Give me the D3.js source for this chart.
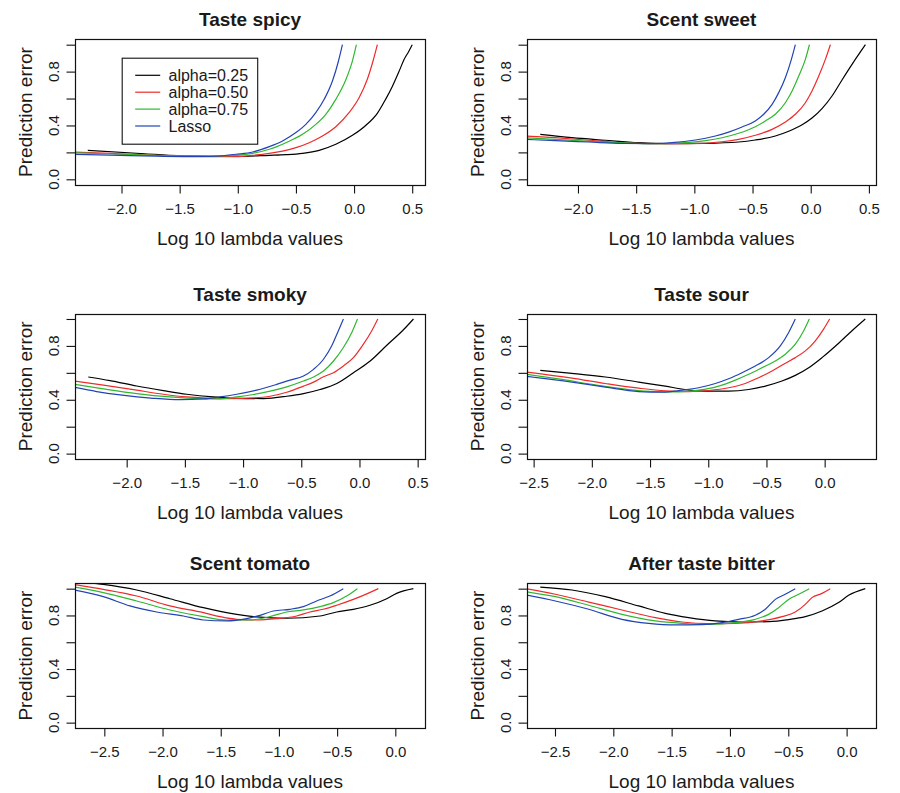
<!DOCTYPE html>
<html>
<head>
<meta charset="utf-8">
<script src="https://cdn.jsdelivr.net/npm/d3@7"></script>
<style>
  body { margin: 0; background: #fff; }
  svg { display: block; font-family: "Liberation Sans", Arial, Helvetica, sans-serif; }
</style>
</head>
<body>
<div id="chart"></div>
<script>
// cross-validated prediction error, [log10 lambda, error] per model
const spicy25 = [[-2.29,0.215],[-1.8,0.19],[-1.4,0.172],[-1.015,0.17],[-0.729,0.178],[-0.586,0.183],[-0.443,0.193],[-0.3,0.215],[-0.157,0.26],[-0.014,0.327],[0.1,0.4],[0.2,0.49],[0.271,0.594],[0.329,0.69],[0.386,0.8],[0.43,0.89],[0.47,0.95],[0.5,1.0]];
const spicy50 = [[-2.5,0.206],[-2.1,0.192],[-1.7,0.178],[-1.3,0.17],[-1.015,0.168],[-0.872,0.178],[-0.729,0.193],[-0.615,0.21],[-0.5,0.235],[-0.386,0.272],[-0.272,0.322],[-0.157,0.391],[-0.043,0.495],[0.043,0.606],[0.114,0.743],[0.163,0.879],[0.2,1.0]];
const spicy75 = [[-2.5,0.198],[-2.1,0.19],[-1.7,0.178],[-1.3,0.172],[-1.015,0.178],[-0.872,0.193],[-0.729,0.223],[-0.586,0.272],[-0.443,0.334],[-0.329,0.408],[-0.243,0.483],[-0.157,0.594],[-0.071,0.74],[-0.014,0.88],[0.02,1.0]];
const spicyLasso = [[-2.5,0.186],[-2.1,0.18],[-1.7,0.172],[-1.3,0.168],[-1.158,0.173],[-1.015,0.186],[-0.872,0.203],[-0.729,0.243],[-0.615,0.285],[-0.5,0.347],[-0.415,0.408],[-0.329,0.495],[-0.257,0.594],[-0.186,0.73],[-0.134,0.879],[-0.1,1.0]];

const sweet25 = [[-2.324,0.334],[-2.052,0.309],[-1.765,0.29],[-1.479,0.272],[-1.192,0.265],[-0.905,0.267],[-0.619,0.277],[-0.476,0.292],[-0.304,0.322],[-0.189,0.357],[-0.074,0.405],[0.011,0.455],[0.097,0.525],[0.183,0.619],[0.269,0.738],[0.355,0.854],[0.47,1.0]];
const sweet50 = [[-2.45,0.322],[-2.195,0.309],[-1.908,0.29],[-1.622,0.272],[-1.335,0.265],[-1.049,0.265],[-0.762,0.279],[-0.619,0.297],[-0.476,0.327],[-0.332,0.371],[-0.218,0.426],[-0.132,0.483],[-0.046,0.569],[0.011,0.656],[0.069,0.767],[0.126,0.891],[0.169,1.0]];
const sweet75 = [[-2.45,0.309],[-2.195,0.297],[-1.908,0.282],[-1.622,0.272],[-1.364,0.265],[-1.192,0.267],[-0.905,0.287],[-0.762,0.309],[-0.619,0.342],[-0.476,0.391],[-0.39,0.433],[-0.304,0.483],[-0.218,0.569],[-0.16,0.656],[-0.103,0.767],[-0.046,0.891],[-0.011,1.0]];
const sweetLasso = [[-2.45,0.297],[-2.195,0.287],[-1.908,0.277],[-1.622,0.267],[-1.364,0.265],[-1.192,0.272],[-0.991,0.292],[-0.819,0.322],[-0.705,0.351],[-0.59,0.389],[-0.476,0.433],[-0.404,0.483],[-0.332,0.557],[-0.275,0.644],[-0.218,0.755],[-0.166,0.891],[-0.132,1.0]];

const smoky25 = [[-2.33,0.569],[-2.143,0.542],[-1.914,0.502],[-1.685,0.468],[-1.484,0.441],[-1.255,0.421],[-1.054,0.411],[-0.825,0.409],[-0.625,0.426],[-0.481,0.446],[-0.338,0.476],[-0.195,0.521],[-0.052,0.601],[0.092,0.688],[0.235,0.805],[0.378,0.92],[0.464,1.0]];
const smoky50 = [[-2.46,0.541],[-2.2,0.509],[-1.914,0.471],[-1.685,0.441],[-1.484,0.421],[-1.284,0.411],[-1.112,0.409],[-0.911,0.414],[-0.768,0.426],[-0.625,0.456],[-0.481,0.501],[-0.395,0.531],[-0.309,0.571],[-0.223,0.601],[-0.138,0.651],[-0.052,0.713],[0.034,0.813],[0.106,0.913],[0.158,1.0]];
const smoky75 = [[-2.46,0.516],[-2.2,0.481],[-1.914,0.446],[-1.628,0.421],[-1.398,0.409],[-1.226,0.406],[-1.054,0.421],[-0.911,0.439],[-0.768,0.464],[-0.625,0.496],[-0.481,0.539],[-0.395,0.569],[-0.309,0.613],[-0.223,0.688],[-0.138,0.788],[-0.066,0.9],[-0.017,1.0]];
const smokyLasso = [[-2.46,0.494],[-2.258,0.461],[-2.057,0.436],[-1.771,0.411],[-1.542,0.401],[-1.341,0.406],[-1.198,0.421],[-1.054,0.441],[-0.883,0.471],[-0.711,0.514],[-0.596,0.546],[-0.481,0.576],[-0.395,0.626],[-0.309,0.701],[-0.238,0.801],[-0.181,0.913],[-0.138,1.0]];

const sour25 = [[-2.443,0.618],[-2.171,0.596],[-1.884,0.569],[-1.598,0.531],[-1.369,0.501],[-1.197,0.476],[-0.997,0.464],[-0.825,0.464],[-0.653,0.476],[-0.51,0.501],[-0.367,0.539],[-0.252,0.581],[-0.137,0.638],[-0.023,0.713],[0.12,0.82],[0.235,0.913],[0.349,1.0]];
const sour50 = [[-2.56,0.606],[-2.171,0.561],[-1.884,0.521],[-1.598,0.486],[-1.369,0.466],[-1.168,0.461],[-0.997,0.469],[-0.825,0.489],[-0.682,0.521],[-0.567,0.564],[-0.452,0.614],[-0.338,0.671],[-0.252,0.713],[-0.166,0.763],[-0.08,0.838],[-0.009,0.925],[0.043,1.0]];
const sour75 = [[-2.56,0.589],[-2.257,0.551],[-1.971,0.511],[-1.684,0.476],[-1.455,0.461],[-1.254,0.459],[-1.083,0.471],[-0.911,0.501],[-0.767,0.546],[-0.653,0.589],[-0.538,0.638],[-0.424,0.688],[-0.338,0.738],[-0.252,0.813],[-0.18,0.913],[-0.132,1.0]];
const sourLasso = [[-2.56,0.574],[-2.171,0.531],[-1.884,0.494],[-1.598,0.461],[-1.397,0.456],[-1.226,0.471],[-1.083,0.489],[-0.939,0.521],[-0.825,0.556],[-0.71,0.601],[-0.596,0.651],[-0.481,0.713],[-0.381,0.8],[-0.309,0.9],[-0.252,1.0]];

const tomato25 = [[-2.637,1.045],[-2.509,1.032],[-2.222,0.99],[-1.936,0.925],[-1.649,0.858],[-1.363,0.808],[-1.191,0.789],[-0.934,0.779],[-0.647,0.796],[-0.504,0.826],[-0.361,0.846],[-0.218,0.876],[-0.074,0.925],[0.011,0.965],[0.155,1.0]];
const tomato50 = [[-2.76,1.032],[-2.509,0.995],[-2.222,0.945],[-1.936,0.871],[-1.649,0.821],[-1.506,0.791],[-1.363,0.771],[-1.191,0.766],[-1.019,0.776],[-0.848,0.796],[-0.733,0.826],[-0.619,0.846],[-0.504,0.876],[-0.361,0.92],[-0.275,0.95],[-0.146,1.0]];
const tomato75 = [[-2.76,1.012],[-2.509,0.97],[-2.222,0.908],[-1.936,0.841],[-1.649,0.791],[-1.449,0.766],[-1.249,0.766],[-1.077,0.791],[-0.934,0.826],[-0.79,0.841],[-0.647,0.866],[-0.533,0.896],[-0.418,0.945],[-0.326,1.0]];
const tomatoLasso = [[-2.76,0.99],[-2.509,0.94],[-2.28,0.871],[-2.05,0.826],[-1.821,0.796],[-1.649,0.766],[-1.449,0.759],[-1.277,0.776],[-1.162,0.801],[-1.048,0.833],[-0.905,0.846],[-0.79,0.866],[-0.676,0.908],[-0.562,0.945],[-0.447,1.0]];

const bitter25 = [[-2.626,1.012],[-2.354,0.99],[-2.069,0.94],[-1.783,0.871],[-1.554,0.816],[-1.354,0.784],[-1.126,0.759],[-0.897,0.751],[-0.669,0.754],[-0.497,0.769],[-0.354,0.791],[-0.211,0.833],[-0.069,0.896],[0.017,0.95],[0.16,1.0]];
const bitter50 = [[-2.75,1.0],[-2.497,0.958],[-2.211,0.9],[-1.926,0.841],[-1.64,0.784],[-1.411,0.751],[-1.183,0.739],[-0.954,0.741],[-0.726,0.759],[-0.554,0.791],[-0.44,0.826],[-0.354,0.883],[-0.297,0.933],[-0.211,0.965],[-0.14,1.0]];
const bitter75 = [[-2.75,0.978],[-2.497,0.94],[-2.211,0.876],[-1.926,0.808],[-1.64,0.759],[-1.411,0.741],[-1.183,0.734],[-0.954,0.746],[-0.783,0.771],[-0.669,0.808],[-0.583,0.858],[-0.497,0.92],[-0.411,0.958],[-0.32,1.0]];
const bitterLasso = [[-2.75,0.953],[-2.497,0.908],[-2.211,0.846],[-1.926,0.771],[-1.697,0.741],[-1.469,0.729],[-1.24,0.731],[-1.069,0.746],[-0.926,0.771],[-0.783,0.801],[-0.697,0.846],[-0.611,0.92],[-0.526,0.958],[-0.44,1.0]];

const panelTitles = ['Taste spicy', 'Scent sweet', 'Taste smoky', 'Taste sour', 'Scent tomato', 'After taste bitter'];
const xDomains = [[-2.40, 0.61], [-2.438, 0.561], [-2.444, 0.563], [-2.557, 0.441], [-2.752, 0.255], [-2.74, 0.252]];
const xTicksShort = [-2.0, -1.5, -1.0, -0.5, 0.0, 0.5];
const xTicksLong = [-2.5, -2.0, -1.5, -1.0, -0.5, 0.0];
const xTickSets = [xTicksShort, xTicksShort, xTicksShort, xTicksLong, xTicksLong, xTicksLong];
const yTicks = [0, 0.2, 0.4, 0.6, 0.8, 1.0];
const yTickLabels = [0, 0.4, 0.8];
const seriesNames = ['alpha=0.25', 'alpha=0.50', 'alpha=0.75', 'Lasso'];
const seriesColours = ['#000000', '#ee2b2b', '#2fb82f', '#2343b5'];

const panelSeries = [
	[spicy25, spicy50, spicy75, spicyLasso],
	[sweet25, sweet50, sweet75, sweetLasso],
	[smoky25, smoky50, smoky75, smokyLasso],
	[sour25, sour50, sour75, sourLasso],
	[tomato25, tomato50, tomato75, tomatoLasso],
	[bitter25, bitter50, bitter75, bitterLasso]
];

// plot boxes in pixels (columns / rows of the 3x2 grid)
const colX = [[75, 425], [527, 876]];
const rowY = [[39.3, 184.7], [313.6, 459], [583.3, 728]];
const textColour = '#1a1a1a';

const svg = d3
	.select('#chart')
	.append('svg')
	.attr('width', 900)
	.attr('height', 793)
	.style('background', '#fff');

const fmt = d3.format('.1f');

panelTitles.forEach(function (title, i) {
	const col = i % 2;
	const row = Math.floor(i / 2);
	const left = colX[col][0], right = colX[col][1];
	const top = rowY[row][0], bottom = rowY[row][1];

	const x = d3.scaleLinear().domain(xDomains[i]).range([left, right]);
	const y = d3.scaleLinear().domain([-0.04, 1.04]).range([bottom, top]);

	const g = svg.append('g').attr('class', 'panel');

	// clip the curves to the plot region, like R does
	g.append('clipPath')
		.attr('id', 'clip' + i)
		.append('rect')
		.attr('x', left)
		.attr('y', top)
		.attr('width', right - left)
		.attr('height', bottom - top);

	const line = d3
		.line()
		.x(function (d) { return x(d[0]); })
		.y(function (d) { return y(d[1]); })
		.curve(d3.curveMonotoneX);

	g.append('g')
		.attr('clip-path', 'url(#clip' + i + ')')
		.selectAll('path')
		.data(panelSeries[i])
		.join('path')
		.attr('d', line)
		.attr('fill', 'none')
		.attr('stroke', function (d, k) { return seriesColours[k]; })
		.attr('stroke-width', 1.2);

	// box
	g.append('rect')
		.attr('x', Math.round(left) + 0.5)
		.attr('y', Math.round(top) + 0.5)
		.attr('width', Math.round(right) - Math.round(left))
		.attr('height', Math.round(bottom) - Math.round(top))
		.attr('fill', 'none')
		.attr('stroke', '#111')
		.attr('stroke-width', 1.2);

	// x axis
	const xAxis = g.append('g')
		.attr('transform', 'translate(0,' + Math.round(bottom) + ')')
		.call(d3.axisBottom(x).tickValues(xTickSets[i]).tickSize(8.5).tickPadding(10.3).tickFormat(fmt));
	xAxis.select('.domain').remove();
	xAxis.selectAll('line').attr('stroke', '#111').attr('stroke-width', 1.1);
	xAxis.selectAll('text')
		.style('font-size', '15px')
		.style('font-family', '"Liberation Sans", Arial, sans-serif')
		.attr('fill', textColour);

	// y axis ticks, labels drawn rotated as in base R
	const yAxis = g.append('g')
		.attr('transform', 'translate(' + Math.round(left) + ',0)')
		.call(d3.axisLeft(y).tickValues(yTicks).tickSize(8.5).tickFormat(''));
	yAxis.select('.domain').remove();
	yAxis.selectAll('line').attr('stroke', '#111').attr('stroke-width', 1.1);

	g.selectAll('.ylab')
		.data(yTickLabels)
		.join('text')
		.attr('class', 'ylab')
		.attr('transform', function (d) { return 'translate(' + (left - 16) + ',' + y(d) + ') rotate(-90)'; })
		.attr('text-anchor', 'middle')
		.style('font-size', '15px')
		.attr('fill', textColour)
		.text(function (d) { return fmt(d); });

	// titles and axis labels
	g.append('text')
		.attr('x', (left + right) / 2)
		.attr('y', top - 13)
		.attr('text-anchor', 'middle')
		.style('font-size', '19px')
		.style('font-weight', 'bold')
		.attr('fill', textColour)
		.text(title);

	g.append('text')
		.attr('x', (left + right) / 2)
		.attr('y', bottom + 60)
		.attr('text-anchor', 'middle')
		.style('font-size', '19px')
		.attr('fill', textColour)
		.text('Log 10 lambda values');

	g.append('text')
		.attr('transform', 'translate(' + (left - 43) + ',' + (top + bottom) / 2 + ') rotate(-90)')
		.attr('text-anchor', 'middle')
		.style('font-size', '19px')
		.attr('fill', textColour)
		.text('Prediction error');

	// legend only in the first panel
	if (i === 0) {
		const lx = left + 46.7, ly = top + 18.4;
		const legend = g.append('g').attr('transform', 'translate(' + lx + ',' + ly + ')');
		legend.append('rect')
			.attr('x', 0.5)
			.attr('y', 0.5)
			.attr('width', 135.5)
			.attr('height', 86)
			.attr('fill', '#fff')
			.attr('stroke', '#111')
			.attr('stroke-width', 1.1);
		const item = legend.selectAll('.item')
			.data(seriesNames)
			.join('g')
			.attr('class', 'item')
			.attr('transform', function (d, k) { return 'translate(0,' + (17.6 + k * 16.9) + ')'; });
		item.append('line')
			.attr('x1', 13.5)
			.attr('x2', 38.5)
			.attr('stroke', function (d, k) { return seriesColours[k]; })
			.attr('stroke-width', 1.2);
		item.append('text')
			.attr('x', 46.8)
			.attr('dy', '0.35em')
			.style('font-size', '16px')
			.attr('fill', textColour)
			.text(function (d) { return d; });
	}
});
</script>
</body>
</html>
